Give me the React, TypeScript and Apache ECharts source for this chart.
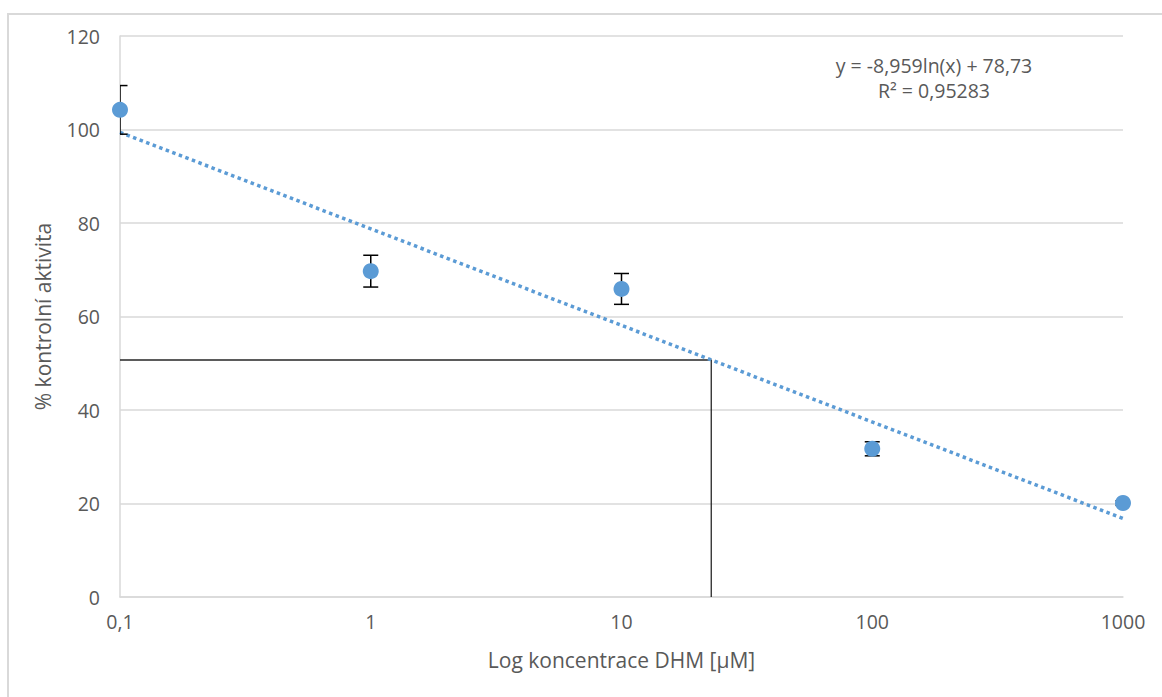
import React, { useEffect, useRef } from "react";
import * as echarts from "echarts";

const concentrations = [0.1, 1, 10, 100, 1000];
const activity = [104.2, 69.7, 65.9, 31.7, 20.1];
const errors = [5.2, 3.4, 3.3, 1.5, 0.5];
const trendX = [0.1, 1000];
const trendY = [99.4, 16.8];
const ic50X = 22.8;
const ic50Y = 50.7;
const yTicks = [0, 20, 40, 60, 80, 100, 120];
const equationLines = ["y = -8,959ln(x) + 78,73", "R² = 0,95283"];

export default function App() {
  const ref = useRef<HTMLDivElement>(null);
  useEffect(() => {
    if (!ref.current) return;
    const chart = echarts.init(ref.current, null, { renderer: "svg" });
    const font = "'Open Sans', 'Liberation Sans', sans-serif";
    const txt = "#595959";
    const points = concentrations.map((c, i) => [c, activity[i]]);
    const errData = concentrations.map((c, i) => [c, activity[i] - errors[i], activity[i] + errors[i]]);
    chart.setOption({
      animation: false,
      backgroundColor: "#ffffff",
      grid: { left: 120, right: 39, top: 36, bottom: 100 },
      xAxis: {
        type: "log",
        logBase: 10,
        min: 0.1,
        max: 1000,
        name: "Log koncentrace DHM [µM]",
        nameLocation: "middle",
        nameGap: 52,
        nameTextStyle: { color: txt, fontSize: 21, fontFamily: font },
        axisLine: { show: true, lineStyle: { color: "#D9D9D9", width: 1.5 } },
        axisTick: { show: false },
        splitLine: { show: false },
        minorTick: { show: false },
        axisLabel: {
          color: txt,
          fontSize: 19.5,
          fontFamily: font,
          margin: 14,
          formatter: (v: number) => {
            const r = Math.round(v * 1000) / 1000;
            return String(r).replace(".", ",");
          },
        },
      },
      yAxis: {
        type: "value",
        min: yTicks[0],
        max: yTicks[yTicks.length - 1],
        interval: 20,
        name: "% kontrolní aktivita",
        nameLocation: "middle",
        nameGap: 67,
        nameTextStyle: { color: txt, fontSize: 21, fontFamily: font },
        axisLine: { show: true, lineStyle: { color: "#D9D9D9", width: 1.5 } },
        axisTick: { show: false },
        splitLine: { show: true, lineStyle: { color: "#D9D9D9", width: 1.5 } },
        axisLabel: { color: txt, fontSize: 19.5, fontFamily: font, margin: 20 },
      },
      series: [
        {
          type: "line",
          data: [[0.1, ic50Y], [ic50X, ic50Y], [ic50X, 0]],
          symbol: "none",
          lineStyle: { color: "#262626", width: 1.3 },
          z: 2,
        },
        {
          type: "line",
          data: trendX.map((x, i) => [x, trendY[i]]),
          symbol: "none",
          lineStyle: { color: "#5B9BD5", width: 3.5, type: [3.5, 3.5], cap: "butt" },
          z: 3,
        },
        {
          type: "custom",
          clip: true,
          data: errData,
          renderItem: (params: any, api: any) => {
            const x = api.value(0);
            const lo = api.coord([x, api.value(1)]);
            const hi = api.coord([x, api.value(2)]);
            const hw = 7.5;
            const style = { stroke: "#000000", lineWidth: 1.5 };
            return {
              type: "group",
              children: [
                { type: "line", shape: { x1: lo[0], y1: lo[1], x2: hi[0], y2: hi[1] }, style },
                { type: "line", shape: { x1: lo[0] - hw, y1: lo[1], x2: lo[0] + hw, y2: lo[1] }, style },
                { type: "line", shape: { x1: hi[0] - hw, y1: hi[1], x2: hi[0] + hw, y2: hi[1] }, style },
              ],
            };
          },
          z: 4,
        },
        {
          type: "scatter",
          data: points,
          symbol: "circle",
          symbolSize: 16,
          itemStyle: { color: "#5B9BD5", opacity: 1 },
          z: 5,
        },
      ],
      graphic: [
        {
          type: "rect",
          shape: { x: 8, y: 14, width: 1170, height: 700 },
          style: { fill: "none", stroke: "#D9D9D9", lineWidth: 2 },
          silent: true,
          z: -10,
        },
        {
          type: "text",
          x: 934,
          y: 65,
          style: {
            text: equationLines[0],
            fill: txt,
            font: `19.5px ${font}`,
            textAlign: "center",
            textVerticalAlign: "middle",
          },
        },
        {
          type: "text",
          x: 934,
          y: 90,
          style: {
            text: equationLines[1],
            fill: txt,
            font: `19.5px ${font}`,
            textAlign: "center",
            textVerticalAlign: "middle",
          },
        },
      ],
    });
    return () => chart.dispose();
  }, []);
  return (
    <div
      ref={ref}
      style={{ position: "fixed", left: 0, top: 0, width: 1162, height: 697 }}
    />
  );
}
